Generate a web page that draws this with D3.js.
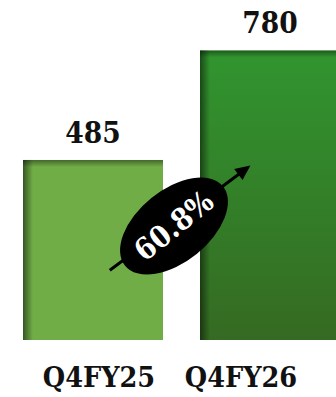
<!DOCTYPE html>
<html>
<head>
<meta charset="utf-8">
<script src="https://cdn.jsdelivr.net/npm/d3@7"></script>
<style>
  html, body { margin: 0; padding: 0; background: #fff; }
  svg { display: block; }
</style>
</head>
<body>
<div class="canvas"></div>
<script>
// data
const categories = ['Q4FY25', 'Q4FY26'];
const values = [485, 780];
const growthLabel = '60.8%';

const width = 336;
const height = 397;
const baseY = 340;
const fontFam = '"DejaVu Serif Condensed", "DejaVu Serif", serif';

const svg = d3.select('.canvas')
  .append('svg')
  .attr('width', width)
  .attr('height', height);

const defs = svg.append('defs');

// gradient for second bar (lighter top, darker bottom)
const g2 = defs.append('linearGradient')
  .attr('id', 'bar2grad')
  .attr('x1', 0).attr('y1', 0).attr('x2', 0).attr('y2', 1);
g2.append('stop').attr('offset', '0%').attr('stop-color', '#31952f');
g2.append('stop').attr('offset', '100%').attr('stop-color', '#356a22');

// inner shadow gradients
const leftShade = defs.append('linearGradient')
  .attr('id', 'leftShade')
  .attr('x1', 0).attr('y1', 0).attr('x2', 1).attr('y2', 0);
leftShade.append('stop').attr('offset', '0%').attr('stop-color', '#000').attr('stop-opacity', 0.5);
leftShade.append('stop').attr('offset', '100%').attr('stop-color', '#000').attr('stop-opacity', 0);

const topShade = defs.append('linearGradient')
  .attr('id', 'topShade')
  .attr('x1', 0).attr('y1', 0).attr('x2', 0).attr('y2', 1);
topShade.append('stop').attr('offset', '0%').attr('stop-color', '#000').attr('stop-opacity', 0.4);
topShade.append('stop').attr('offset', '100%').attr('stop-color', '#000').attr('stop-opacity', 0);

// scales
const x = d3.scaleBand()
  .domain(categories)
  .range([23, 340])
  .paddingInner(37 / 177)
  .paddingOuter(0);

const y = d3.scaleLinear()
  .domain([0, 916])
  .range([baseY, 0]);

const labelX = d3.scalePoint()
  .domain(categories)
  .range([99, 241]);

const fills = ['#70ad47', 'url(#bar2grad)'];
const bw = x.bandwidth();

const bars = svg.selectAll('g.bar')
  .data(categories.map((c, i) => ({ name: c, value: values[i], fill: fills[i] })))
  .enter()
  .append('g')
  .attr('class', 'bar');

bars.append('rect')
  .attr('x', d => x(d.name))
  .attr('y', d => y(d.value))
  .attr('width', bw)
  .attr('height', d => baseY - y(d.value))
  .attr('fill', d => d.fill);

// inset shadow on left and top edges
bars.append('rect')
  .attr('x', d => x(d.name))
  .attr('y', d => y(d.value))
  .attr('width', 10)
  .attr('height', d => baseY - y(d.value))
  .attr('fill', 'url(#leftShade)');

bars.append('rect')
  .attr('x', d => x(d.name))
  .attr('y', d => y(d.value))
  .attr('width', bw)
  .attr('height', 7)
  .attr('fill', 'url(#topShade)');

// value labels
bars.append('text')
  .attr('x', d => x(d.name) + bw / 2)
  .attr('y', d => y(d.value) - 17)
  .attr('text-anchor', 'middle')
  .attr('font-family', fontFam)
  .attr('font-weight', 'bold')
  .attr('font-size', 29.5)
  .attr('fill', '#111')
  .text(d => d.value);

// category labels
svg.selectAll('text.cat')
  .data(categories)
  .enter()
  .append('text')
  .attr('class', 'cat')
  .attr('x', d => labelX(d))
  .attr('y', 387)
  .attr('text-anchor', 'middle')
  .attr('font-family', fontFam)
  .attr('font-weight', 'bold')
  .attr('font-size', 28.5)
  .attr('fill', '#111')
  .text(d => d);

// growth arrow
const x0 = x(categories[0]) + bw * 0.62;
const y0 = y(188);
const x1 = x(categories[1]) + bw * 0.36;
const y1 = y(470);
const ang = Math.atan2(y1 - y0, x1 - x0);
const headLen = 15;
const headW = 7;

svg.append('line')
  .attr('x1', x0).attr('y1', y0)
  .attr('x2', x1 - Math.cos(ang) * headLen * 0.8)
  .attr('y2', y1 - Math.sin(ang) * headLen * 0.8)
  .attr('stroke', '#000')
  .attr('stroke-width', 3);

const bx = x1 - Math.cos(ang) * headLen;
const by = y1 - Math.sin(ang) * headLen;
svg.append('polygon')
  .attr('points', [
    [x1, y1],
    [bx - Math.sin(ang) * headW, by + Math.cos(ang) * headW],
    [bx + Math.sin(ang) * headW, by - Math.cos(ang) * headW]
  ].map(p => p.join(',')).join(' '))
  .attr('fill', '#000');

// bubble with growth %
const cx = 174;
const cy = 226;
const deg = -39;
const bubble = svg.append('g')
  .attr('transform', `translate(${cx},${cy}) rotate(${deg})`);

bubble.append('ellipse')
  .attr('rx', 63)
  .attr('ry', 36)
  .attr('fill', '#000');

bubble.append('text')
  .attr('x', 0)
  .attr('y', 10)
  .attr('text-anchor', 'middle')
  .attr('font-family', fontFam)
  .attr('font-weight', 'bold')
  .attr('font-size', 30)
  .attr('fill', '#fff')
  .text(growthLabel);
</script>
</body>
</html>
